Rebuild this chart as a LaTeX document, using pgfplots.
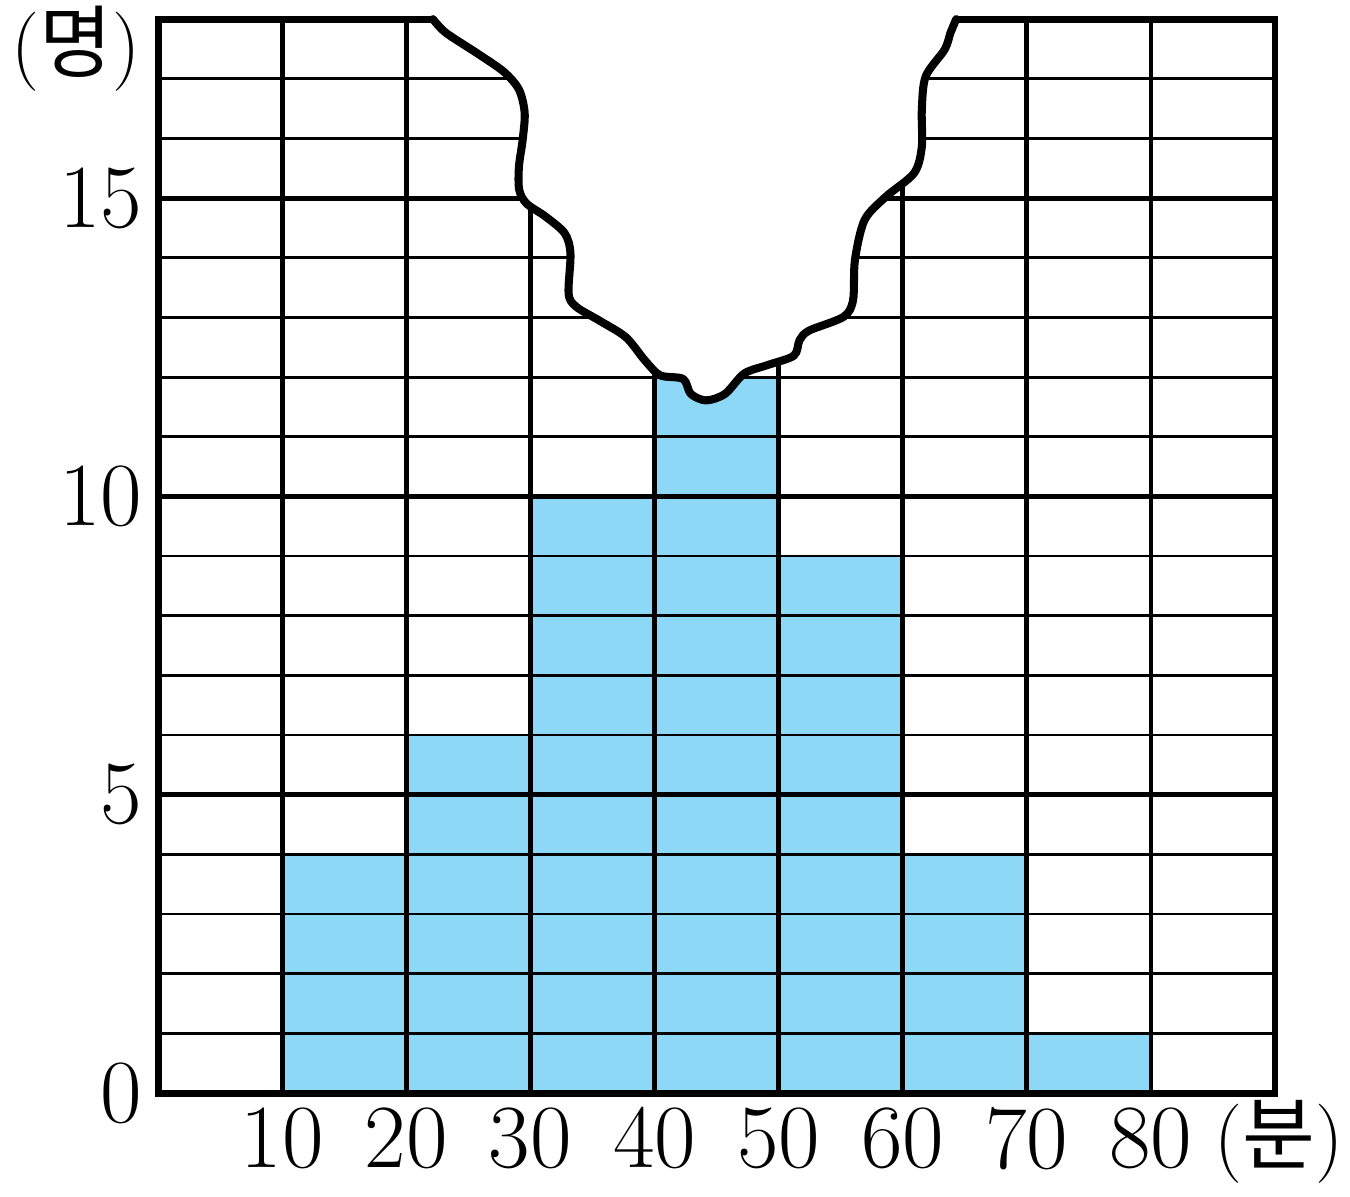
\documentclass[border=0pt]{standalone}
\usepackage{pgfplots}
\pgfplotsset{compat=1.18}
\usepackage{fontspec}
\newfontfamily\kr{Noto Sans CJK KR}
\definecolor{barblue}{RGB}{142,216,247}
\begin{document}
\begin{tikzpicture}
\begin{axis}[
  at={(0,0)}, anchor=south west,
  scale only axis, width=402.1pt, height=386.6pt,
  xmin=0, xmax=90, ymin=0, ymax=18,
  clip=false,
  axis line style={draw=none},
  xtick={10,20,...,80}, ytick={0,5,10,15},
  major tick length=0pt,
  /pgf/number format/assume math mode=true,
  ticklabel style={font=\fontsize{32.5}{34}\selectfont, inner sep=0pt},
  xticklabel style={anchor=north, yshift=-5pt},
  yticklabel style={anchor=east, xshift=-5.5pt},
]
% bars
\addplot[ybar interval, fill=barblue, draw=none, mark=none]
  coordinates {(10,4)(20,6)(30,10)(40,12)(50,9)(60,4)(70,1)(80,1)};
% grid
\pgfplotsinvokeforeach{1,2,3,4,6,7,8,9,11,12,13,14,16,17}{
  \addplot[black, line width=1pt, mark=none] coordinates {(0,#1)(90,#1)};
}
\pgfplotsinvokeforeach{5,10,15}{
  \addplot[black, line width=1.7pt, mark=none] coordinates {(0,#1)(90,#1)};
}
\pgfplotsinvokeforeach{10,20,30,40,50,60,70,80}{
  \addplot[black, line width=1.7pt, mark=none] coordinates {(#1,0)(#1,18)};
}
% torn region
\addplot[fill=white, draw=none, smooth, mark=none] coordinates {
(22.15,18.0)(23.2,17.77)(25.7,17.43)(27.85,17.12)(29.08,16.82)(29.54,16.43)(29.38,15.98)(29.08,15.53)(29.1,15.14)(29.69,14.91)(31.23,14.69)(32.77,14.41)(33.23,14.07)(33.08,13.40)(33.69,13.18)(35.54,12.95)(37.69,12.67)(39.23,12.28)(40.46,12.03)(42.31,11.97)(42.92,11.72)(44.15,11.61)(45.69,11.72)(47.23,12.06)(49.08,12.20)(51.23,12.36)(51.69,12.62)(52.46,12.78)(55.23,13.01)(56.0,13.29)(56.15,13.96)(56.92,14.63)(58.62,15.02)(60.92,15.42)(61.54,15.86)(61.54,16.48)(61.85,17.04)(63.38,17.49)(63.85,17.77)(64.31,18.0)
} -- cycle;
\addplot[black, line width=2.9pt, smooth, line join=round, line cap=round, mark=none] coordinates {
(22.15,18.0)(23.2,17.77)(25.7,17.43)(27.85,17.12)(29.08,16.82)(29.54,16.43)(29.38,15.98)(29.08,15.53)(29.1,15.14)(29.69,14.91)(31.23,14.69)(32.77,14.41)(33.23,14.07)(33.08,13.40)(33.69,13.18)(35.54,12.95)(37.69,12.67)(39.23,12.28)(40.46,12.03)(42.31,11.97)(42.92,11.72)(44.15,11.61)(45.69,11.72)(47.23,12.06)(49.08,12.20)(51.23,12.36)(51.69,12.62)(52.46,12.78)(55.23,13.01)(56.0,13.29)(56.15,13.96)(56.92,14.63)(58.62,15.02)(60.92,15.42)(61.54,15.86)(61.54,16.48)(61.85,17.04)(63.38,17.49)(63.85,17.77)(64.31,18.0)
};
% frame
\addplot[black, line width=2.5pt, line join=miter, mark=none]
  coordinates {(22.15,18)(0,18)(0,0)(90,0)(90,18)(64.31,18)};
% unit labels
\node[font=\fontsize{28.5}{30}\selectfont, inner sep=0pt] at (axis cs:-6.6,17.5) {({\kr 명})};
\node[font=\fontsize{28.5}{30}\selectfont, inner sep=0pt] at (axis cs:90.3,-0.82) {({\kr 분})};
\end{axis}
\useasboundingbox (-56.9pt,-37.1pt) rectangle (429.1pt,393.5pt);
\end{tikzpicture}
\end{document}
